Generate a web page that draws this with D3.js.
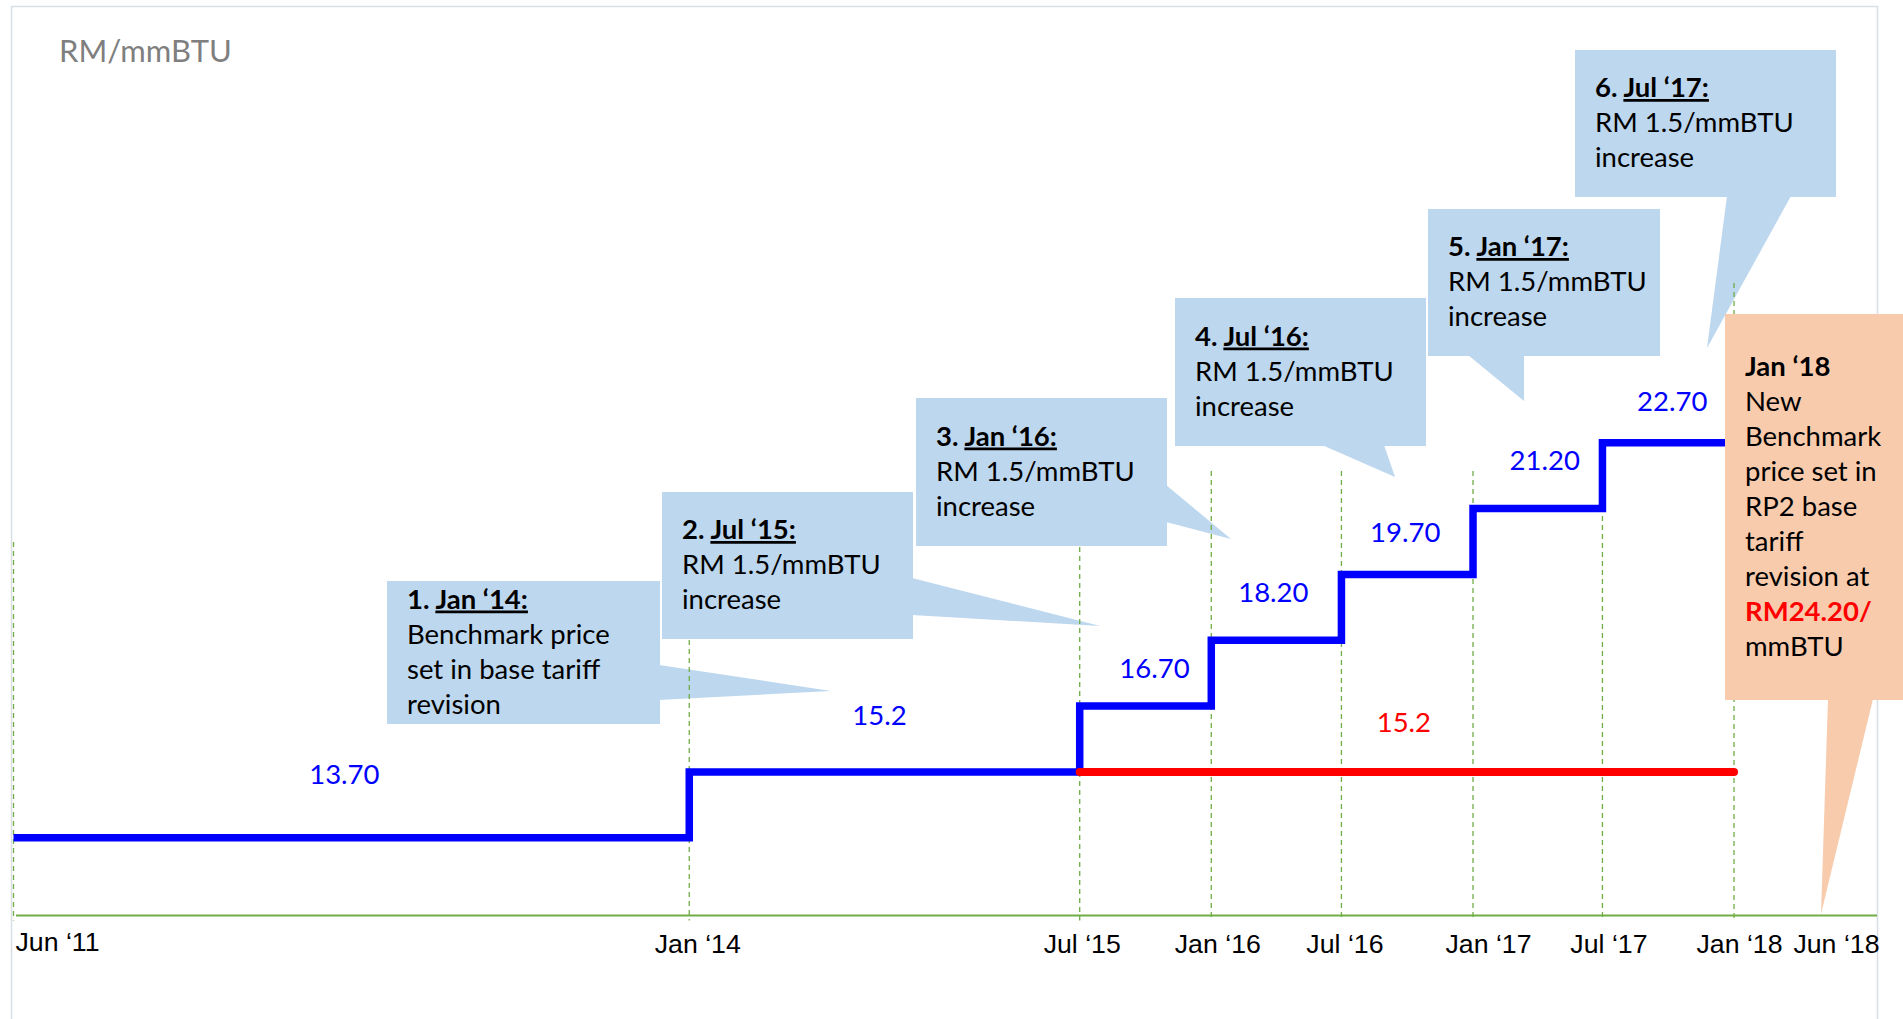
<!DOCTYPE html>
<meta charset="utf-8">
<head>
  <meta charset="utf-8">
  <title>Gas price path</title>
  <script src="https://d3js.org/d3.v7.min.js"></script>
  <style>
    body { margin: 0; background: #fff; }
    .tick text { font-family: "Liberation Sans", Arial, sans-serif; font-size: 26.7px; fill: #000; }
    .callout text { font-family: Lato, "Open Sans", sans-serif; font-size: 27.5px; fill: #000; }
    .val { font-family: Lato, "Open Sans", sans-serif; font-size: 27.5px; }
  </style>
</head>
<body>
<div id="chart"></div>

<script>
// ---- data ----
var stepDates  = ["2011-06-01", "2014-01-01", "2015-07-01", "2016-01-01", "2016-07-01", "2017-01-01", "2017-07-01", "2018-01-01"];
var stepValues = [13.70, 15.20, 16.70, 18.20, 19.70, 21.20, 22.70, 22.70];
var stepLabels = ["13.70", "15.2", "16.70", "18.20", "19.70", "21.20", "22.70"];

var flatDates  = ["2015-07-01", "2018-01-01"];
var flatValues = [15.2, 15.2];
var flatLabel  = "15.2";

var tickDates  = ["2011-06-01", "2014-01-01", "2015-07-01", "2016-01-01", "2016-07-01", "2017-01-01", "2017-07-01", "2018-01-01", "2018-06-01"];
var tickLabels = ["Jun \u201811", "Jan \u201814", "Jul \u201815", "Jan \u201816", "Jul \u201816", "Jan \u201817", "Jul \u201817", "Jan \u201818", "Jun \u201818"];

var calloutNums  = ["1. ", "2. ", "3. ", "4. ", "5. ", "6. "];
var calloutDates = ["Jan \u201814:", "Jul \u201815:", "Jan \u201816:", "Jul \u201816:", "Jan \u201817:", "Jul \u201817:"];
var calloutText  = [
  ["Benchmark price", "set in base tariff", "revision"],
  ["RM 1.5/mmBTU", "increase"],
  ["RM 1.5/mmBTU", "increase"],
  ["RM 1.5/mmBTU", "increase"],
  ["RM 1.5/mmBTU", "increase"],
  ["RM 1.5/mmBTU", "increase"]
];
var finalHead = "Jan \u201818";
var finalText = ["New", "Benchmark", "price set in", "RP2 base", "tariff", "revision at", "RM24.20/", "mmBTU"];
var finalHighlight = "RM24.20/";
var unitLabel = "RM/mmBTU";

// ---- layout (pixels) ----
var W = 1903, H = 1019;
var boxes = [
  {r: [387, 581, 273, 143], p: [[659, 665], [831, 691], [659, 700]]},
  {r: [662, 492, 251, 147], p: [[912, 578], [1100, 626], [912, 615]]},
  {r: [916, 398, 251, 148], p: [[1166, 485], [1231, 539], [1166, 522]]},
  {r: [1175, 298, 251, 148], p: [[1322, 445], [1395, 477], [1384, 445]]},
  {r: [1428, 209, 232, 147], p: [[1468, 355], [1524, 401], [1524, 355]]},
  {r: [1575, 50, 261, 147], p: [[1727, 196], [1707, 348], [1791, 196]]}
];
var finalBox = {r: [1725, 314, 178, 386], p: [[1828, 699], [1821, 914], [1873, 699]]};
var gridTops = [542, 640, 547, 471, 471, 471, 471, 283];
var labelNudge = [[-7, 54], [-5, 47], [9, 28], [-3, 38], [-2, 32], [7, 39], [4, 32]];
var flatNudge = [-3, 40];
var tickNudge = [1.5, 8, 2, 6, 3, 15, 6, 5, 0];
var lineH = 35;

var parse = d3.timeParse("%Y-%m-%d");

var svg = d3.select("#chart")
  .append("svg")
    .attr("width", W)
    .attr("height", H);

// chart frame
svg.append("rect")
  .attr("x", 11.5).attr("y", 6.5)
  .attr("width", 1866).attr("height", H)
  .attr("fill", "none")
  .attr("stroke", "#d9dee6")
  .attr("stroke-width", 1.5);

var x = d3.scaleTime()
  .domain([parse("2011-06-01"), parse("2018-06-01")])
  .range([13.5, 1842]);

var y = d3.scaleLinear()
  .domain([11.93, 24])
  .range([915.5, 385.6]);

var y0 = y.range()[0];

// unit label
svg.append("text")
  .attr("x", 59).attr("y", 62)
  .style("font-family", "Lato, sans-serif")
  .style("font-size", "31px")
  .style("fill", "#7f7f7f")
  .text(unitLabel);

// callout drawing helper
function drawCallout(g, b, fill, lines) {
  g.append("rect")
    .attr("x", b.r[0]).attr("y", b.r[1])
    .attr("width", b.r[2]).attr("height", b.r[3])
    .attr("fill", fill);
  g.append("polygon")
    .attr("points", b.p.map(function(d) { return d.join(","); }).join(" "))
    .attr("fill", fill);
  var n = lines.length;
  var first = b.r[1] + b.r[3] / 2 + 8.5 - (n - 1) * lineH / 2;
  var t = g.append("text");
  lines.forEach(function(l, i) {
    var row = t.append("tspan").attr("x", b.r[0] + 20).attr("y", first + i * lineH);
    l.forEach(function(part) {
      var s = row.append("tspan").text(part.t);
      if (part.bold) s.style("font-weight", "bold");
      if (part.u) s.style("text-decoration", "underline");
      if (part.c) s.style("fill", part.c);
    });
  });
}

// blue callouts
boxes.forEach(function(b, i) {
  var g = svg.append("g").attr("class", "callout");
  var lines = [[{t: calloutNums[i], bold: true}, {t: calloutDates[i], bold: true, u: true}]];
  calloutText[i].forEach(function(l) { lines.push([{t: l}]); });
  drawCallout(g, b, "#bdd7ee", lines);
});

// dashed date guides
svg.append("g")
  .selectAll("line")
  .data(tickDates.slice(0, -1))
  .enter()
  .append("line")
    .attr("x1", function(d) { return x(parse(d)); })
    .attr("x2", function(d) { return x(parse(d)); })
    .attr("y1", function(d, i) { return gridTops[i]; })
    .attr("y2", y0 + 5)
    .attr("stroke", "#70ad47")
    .attr("stroke-width", 1.3)
    .attr("stroke-dasharray", "5,4");

// axis line
svg.append("line")
  .attr("x1", 16).attr("x2", 1877)
  .attr("y1", y0).attr("y2", y0)
  .attr("stroke", "#70ad47")
  .attr("stroke-width", 2);

// step series
var stepData = stepDates.map(function(d, i) { return {date: parse(d), v: stepValues[i]}; });
var flatData = flatDates.map(function(d, i) { return {date: parse(d), v: flatValues[i]}; });

var stepLine = d3.line()
  .x(function(d) { return x(d.date); })
  .y(function(d) { return y(d.v); })
  .curve(d3.curveStepAfter);

svg.append("path")
  .datum(stepData)
  .attr("d", stepLine)
  .attr("fill", "none")
  .attr("stroke", "#0000ff")
  .attr("stroke-width", 7.5);

svg.append("path")
  .datum(flatData)
  .attr("d", d3.line().x(function(d) { return x(d.date); }).y(function(d) { return y(d.v); }))
  .attr("fill", "none")
  .attr("stroke", "#ff0000")
  .attr("stroke-width", 8)
  .attr("stroke-linecap", "round");

// final (orange) callout sits over the line end
var fg = svg.append("g").attr("class", "callout");
var flines = [[{t: finalHead, bold: true}]];
finalText.forEach(function(l) {
  flines.push(l === finalHighlight ? [{t: l, bold: true, c: "#ff0000"}] : [{t: l}]);
});
drawCallout(fg, finalBox, "#f8cbad", flines);

// value labels
svg.append("g")
  .selectAll("text")
  .data(stepLabels)
  .enter()
  .append("text")
    .attr("class", "val")
    .attr("text-anchor", "middle")
    .attr("x", function(d, i) { return (x(stepData[i].date) + x(stepData[i + 1].date)) / 2 + labelNudge[i][0]; })
    .attr("y", function(d, i) { return y(stepData[i].v) - labelNudge[i][1]; })
    .style("fill", "#0000ff")
    .text(function(d) { return d; });

svg.append("text")
  .attr("class", "val")
  .attr("text-anchor", "middle")
  .attr("x", (x(flatData[0].date) + x(flatData[1].date)) / 2 + flatNudge[0])
  .attr("y", y(flatData[0].v) - flatNudge[1])
  .style("fill", "#ff0000")
  .text(flatLabel);

// date labels
var xAxis = d3.axisBottom(x)
  .tickValues(tickDates.map(parse))
  .tickFormat(function(d, i) { return tickLabels[i]; })
  .tickSize(0)
  .tickPadding(18.5);

var ax = svg.append("g")
  .attr("transform", "translate(0," + y0 + ")")
  .call(xAxis);
ax.select(".domain").remove();
ax.selectAll("text")
  .attr("font-family", null).attr("font-size", null)
  .attr("x", function(d, i) { return tickNudge[i]; });
ax.selectAll(".tick").filter(function(d, i) { return i === 0; })
  .select("text").attr("text-anchor", "start").attr("dy", "0.62em");
ax.selectAll(".tick").filter(function(d, i) { return i === tickDates.length - 1; })
  .select("text").attr("text-anchor", "end").attr("x", 1879 - x(parse(tickDates[tickDates.length - 1])));
</script>
</body>
